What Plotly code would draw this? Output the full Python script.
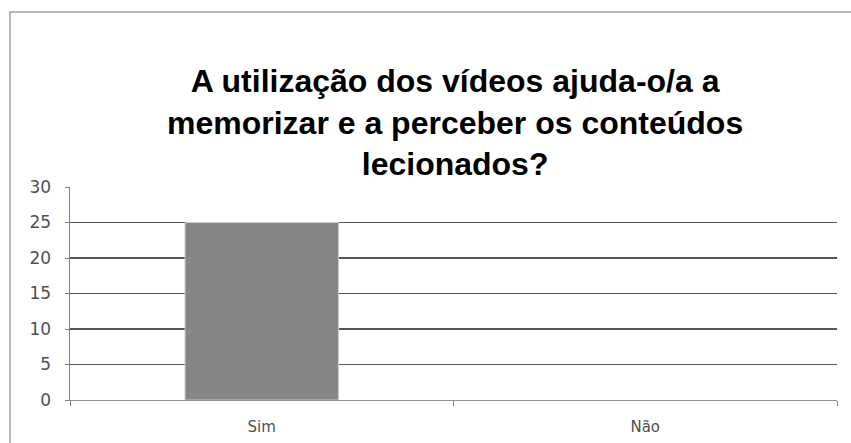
import plotly.graph_objects as go

categories = ["Sim", "Não"]
values = [25, 0]
y_ticks = [0, 5, 10, 15, 20, 25, 30]
title_lines = ["A utilização dos vídeos ajuda-o/a a",
               "memorizar e a perceber os conteúdos",
               "lecionados?"]

W, H = 851, 443
x0, x1 = 70, 837
y_top, y_bot = 187, 400

fig = go.Figure(go.Bar(
    x=categories, y=values, width=0.4,
    marker=dict(color="#868686",
                line=dict(color=["#c8c8c8", "rgba(0,0,0,0)"], width=1)),
    hoverinfo="skip",
))

fig.update_layout(
    width=W, height=H,
    margin=dict(l=0, r=0, t=0, b=0, pad=0, autoexpand=False),
    paper_bgcolor="white", plot_bgcolor="white",
    showlegend=False,
    font=dict(family="DejaVu Sans", color="#404040", size=13),
    xaxis=dict(domain=[x0 / W, x1 / W], type="category", automargin=False,
               showline=True, linecolor="#909090", linewidth=1,
               ticks="outside", tickson="boundaries", ticklen=5,
               tickcolor="#808080", showgrid=False, ticklabelstandoff=13,
               tickfont=dict(family="DejaVu Sans", size=15, color="#505050")),
    yaxis=dict(domain=[1 - y_bot / H, 1 - y_top / H], range=[0, 30], automargin=False,
               tickvals=y_ticks, showline=True, linecolor="#808080", linewidth=1.5,
               ticks="outside", ticklen=4, tickcolor="#808080",
               showgrid=True, gridcolor="#555555", gridwidth=1.5,
               zeroline=False, ticklabelstandoff=10,
               tickfont=dict(family="DejaVu Sans", size=17, color="#505050")),
    shapes=[dict(type="rect", xref="paper", yref="paper",
                 x0=10 / W, x1=1.01, y0=-0.01, y1=1 - 12 / H,
                 line=dict(color="#a0a0a0", width=1.5), fillcolor="rgba(0,0,0,0)")],
    annotations=[dict(text="<br>".join(title_lines), xref="paper", yref="paper",
                      x=455 / W, y=1 - 123 / H,
                      xanchor="center", yanchor="middle",
                      showarrow=False, align="center",
                      font=dict(family="Liberation Sans", size=32, color="black",
                                weight="bold"))],
)

fig.write_html("out.html",
               config={"displayModeBar": False, "staticPlot": True},
               post_script="document.body.style.margin='0';document.body.style.overflow='hidden';")
